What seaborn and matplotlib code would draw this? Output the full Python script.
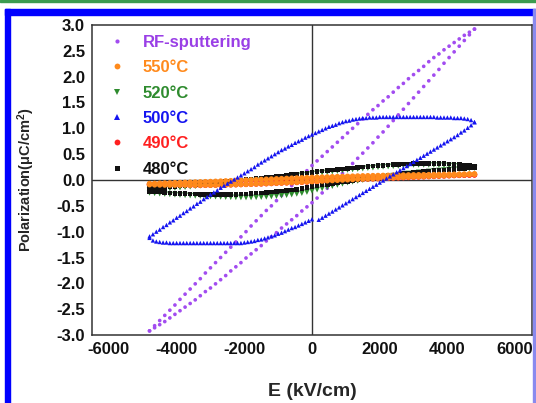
import numpy as np
import matplotlib
matplotlib.use("Agg")
import matplotlib.pyplot as plt
import seaborn as sns
from matplotlib.lines import Line2D
from matplotlib.patches import Rectangle
from matplotlib.ticker import MultipleLocator, FormatStrFormatter

# ---------------------------------------------------------------- data
# field sweep, 150 kV/cm steps
E_150 = [-4800, -4650, -4500, -4350, -4200, -4050, -3900, -3750, -3600, -3450, -3300, -3150, -3000,
         -2850, -2700, -2550, -2400, -2250, -2100, -1950, -1800, -1650, -1500, -1350, -1200, -1050,
         -900, -750, -600, -450, -300, -150, 0, 150, 300, 450, 600, 750, 900,
         1050, 1200, 1350, 1500, 1650, 1800, 1950, 2100, 2250, 2400, 2550, 2700, 2850,
         3000, 3150, 3300, 3450, 3600, 3750, 3900, 4050, 4200, 4350, 4500, 4650, 4800]

# field sweep, 100 kV/cm steps (500 C film)
E_100 = [-4800, -4700, -4600, -4500, -4400, -4300, -4200, -4100, -4000, -3900, -3800, -3700,
         -3600, -3500, -3400, -3300, -3200, -3100, -3000, -2900, -2800, -2700, -2600, -2500,
         -2400, -2300, -2200, -2100, -2000, -1900, -1800, -1700, -1600, -1500, -1400, -1300,
         -1200, -1100, -1000, -900, -800, -700, -600, -500, -400, -300, -200, -100,
         0, 100, 200, 300, 400, 500, 600, 700, 800, 900, 1000, 1100,
         1200, 1300, 1400, 1500, 1600, 1700, 1800, 1900, 2000, 2100, 2200, 2300,
         2400, 2500, 2600, 2700, 2800, 2900, 3000, 3100, 3200, 3300, 3400, 3500,
         3600, 3700, 3800, 3900, 4000, 4100, 4200, 4300, 4400, 4500, 4600, 4700,
         4800]

# polarization (uC/cm^2): "up" = branch swept down from +Emax, "lo" = branch swept up
rf_up = [-2.92, -2.82, -2.72, -2.62, -2.52, -2.42, -2.31, -2.21, -2.11, -2.01, -1.91, -1.80, -1.70,
         -1.60, -1.50, -1.40, -1.30, -1.20, -1.10, -1.00, -0.89, -0.79, -0.69, -0.59, -0.50, -0.40,
         -0.30, -0.21, -0.11, -0.01, 0.08, 0.18, 0.28, 0.37, 0.46, 0.55, 0.64, 0.73, 0.82,
         0.91, 1.00, 1.09, 1.18, 1.27, 1.36, 1.44, 1.53, 1.61, 1.70, 1.79, 1.87, 1.96,
         2.04, 2.12, 2.20, 2.29, 2.37, 2.44, 2.52, 2.59, 2.66, 2.73, 2.80, 2.86, 2.92]
rf_lo = [-2.92, -2.86, -2.80, -2.74, -2.67, -2.60, -2.53, -2.46, -2.39, -2.32, -2.24, -2.16, -2.09,
         -2.01, -1.93, -1.85, -1.76, -1.68, -1.60, -1.51, -1.43, -1.35, -1.27, -1.18, -1.10, -1.02,
         -0.93, -0.85, -0.77, -0.69, -0.60, -0.52, -0.44, -0.35, -0.25, -0.16, -0.06, 0.03, 0.13,
         0.22, 0.32, 0.42, 0.52, 0.62, 0.72, 0.83, 0.93, 1.04, 1.15, 1.26, 1.37, 1.48,
         1.59, 1.70, 1.81, 1.92, 2.03, 2.14, 2.26, 2.37, 2.48, 2.59, 2.70, 2.81, 2.92]

c550_up = [-0.070, -0.067, -0.063, -0.060, -0.057, -0.053, -0.050, -0.047, -0.043, -0.040, -0.037, -0.033, -0.030,
           -0.026, -0.022, -0.018, -0.014, -0.010, -0.006, -0.002, 0.002, 0.006, 0.010, 0.014, 0.018, 0.022,
           0.026, 0.030, 0.034, 0.038, 0.042, 0.046, 0.050, 0.053, 0.056, 0.059, 0.062, 0.065, 0.068,
           0.071, 0.074, 0.077, 0.080, 0.082, 0.084, 0.086, 0.088, 0.090, 0.092, 0.094, 0.096, 0.098,
           0.100, 0.101, 0.102, 0.103, 0.105, 0.106, 0.108, 0.109, 0.111, 0.113, 0.115, 0.118, 0.120]
c550_lo = [-0.090, -0.093, -0.095, -0.097, -0.098, -0.099, -0.100, -0.100, -0.100, -0.100, -0.100, -0.100, -0.100,
           -0.098, -0.096, -0.094, -0.092, -0.089, -0.086, -0.083, -0.080, -0.076, -0.072, -0.068, -0.064, -0.060,
           -0.056, -0.052, -0.048, -0.043, -0.039, -0.034, -0.030, -0.025, -0.020, -0.015, -0.010, -0.005, 0.000,
           0.005, 0.010, 0.015, 0.020, 0.024, 0.028, 0.032, 0.036, 0.040, 0.044, 0.048, 0.052, 0.056,
           0.060, 0.064, 0.068, 0.072, 0.076, 0.080, 0.084, 0.088, 0.092, 0.096, 0.100, 0.105, 0.110]

c520_up = [-0.200, -0.192, -0.183, -0.175, -0.166, -0.157, -0.148, -0.139, -0.130, -0.121, -0.112, -0.101, -0.090,
           -0.081, -0.072, -0.063, -0.054, -0.045, -0.036, -0.026, -0.016, -0.006, 0.005, 0.015, 0.025, 0.035,
           0.046, 0.058, 0.070, 0.082, 0.094, 0.107, 0.120, 0.130, 0.141, 0.151, 0.162, 0.172, 0.183,
           0.193, 0.202, 0.211, 0.220, 0.229, 0.238, 0.247, 0.254, 0.260, 0.266, 0.272, 0.278, 0.284,
           0.290, 0.291, 0.292, 0.292, 0.290, 0.288, 0.285, 0.280, 0.275, 0.270, 0.262, 0.252, 0.240]
c520_lo = [-0.250, -0.258, -0.265, -0.272, -0.279, -0.287, -0.292, -0.297, -0.302, -0.307, -0.311, -0.316, -0.320,
           -0.324, -0.328, -0.332, -0.335, -0.337, -0.339, -0.340, -0.339, -0.336, -0.332, -0.327, -0.321, -0.314,
           -0.305, -0.295, -0.284, -0.270, -0.255, -0.234, -0.210, -0.188, -0.165, -0.143, -0.120, -0.098, -0.075,
           -0.052, -0.035, -0.019, -0.002, 0.014, 0.031, 0.047, 0.059, 0.073, 0.086, 0.100, 0.113, 0.127,
           0.140, 0.149, 0.158, 0.167, 0.176, 0.185, 0.194, 0.202, 0.206, 0.210, 0.215, 0.222, 0.230]

c500_up = [-1.09, -1.05, -1.00, -0.96, -0.91, -0.87, -0.82, -0.78, -0.73, -0.69, -0.64, -0.60,
           -0.55, -0.51, -0.46, -0.42, -0.37, -0.33, -0.28, -0.24, -0.20, -0.15, -0.11, -0.07,
           -0.03, 0.01, 0.05, 0.09, 0.13, 0.17, 0.21, 0.25, 0.30, 0.34, 0.38, 0.42,
           0.46, 0.50, 0.54, 0.58, 0.61, 0.65, 0.68, 0.72, 0.75, 0.78, 0.82, 0.85,
           0.88, 0.91, 0.94, 0.97, 1.00, 1.03, 1.05, 1.07, 1.10, 1.12, 1.14, 1.15,
           1.17, 1.18, 1.19, 1.20, 1.20, 1.21, 1.21, 1.21, 1.22, 1.22, 1.22, 1.22,
           1.22, 1.22, 1.22, 1.22, 1.22, 1.22, 1.22, 1.22, 1.22, 1.22, 1.22, 1.22,
           1.22, 1.21, 1.21, 1.21, 1.21, 1.21, 1.20, 1.20, 1.20, 1.19, 1.18, 1.16,
           1.12]
c500_lo = [-1.12, -1.17, -1.19, -1.20, -1.21, -1.21, -1.22, -1.22, -1.22, -1.22, -1.22, -1.22,
           -1.22, -1.22, -1.22, -1.22, -1.22, -1.22, -1.22, -1.22, -1.22, -1.22, -1.22, -1.22,
           -1.22, -1.22, -1.22, -1.22, -1.21, -1.20, -1.19, -1.18, -1.16, -1.15, -1.13, -1.11,
           -1.09, -1.07, -1.04, -1.02, -0.99, -0.96, -0.93, -0.91, -0.88, -0.85, -0.82, -0.79,
           -0.76, np.nan, -0.77, -0.73, -0.69, -0.65, -0.61, -0.57, -0.53, -0.49, -0.45, -0.41,
           -0.37, -0.33, -0.29, -0.25, -0.21, -0.17, -0.13, -0.09, -0.05, -0.01, 0.03, 0.07,
           0.11, 0.15, 0.19, 0.23, 0.27, 0.31, 0.35, 0.39, 0.43, 0.47, 0.51, 0.55,
           0.59, 0.63, 0.67, 0.71, 0.75, 0.79, 0.83, 0.87, 0.92, 0.96, 1.01, 1.06,
           1.12]

c490_up = [-0.080, -0.077, -0.074, -0.071, -0.068, -0.065, -0.062, -0.059, -0.056, -0.053, -0.050, -0.047, -0.044,
           -0.040, -0.036, -0.032, -0.028, -0.024, -0.020, -0.016, -0.012, -0.008, -0.004, 0.000, 0.004, 0.008,
           0.012, 0.016, 0.020, 0.024, 0.028, 0.032, 0.036, 0.039, 0.042, 0.045, 0.048, 0.051, 0.054,
           0.057, 0.060, 0.063, 0.066, 0.068, 0.070, 0.072, 0.074, 0.076, 0.078, 0.080, 0.082, 0.084,
           0.086, 0.087, 0.088, 0.089, 0.090, 0.091, 0.092, 0.093, 0.094, 0.095, 0.096, 0.098, 0.100]
c490_lo = [-0.095, -0.097, -0.099, -0.101, -0.102, -0.103, -0.104, -0.104, -0.104, -0.104, -0.103, -0.102, -0.101,
           -0.099, -0.097, -0.095, -0.093, -0.090, -0.087, -0.084, -0.081, -0.078, -0.075, -0.071, -0.067, -0.063,
           -0.059, -0.055, -0.051, -0.047, -0.043, -0.039, -0.035, -0.031, -0.027, -0.022, -0.017, -0.012, -0.007,
           -0.002, 0.003, 0.008, 0.013, 0.018, 0.022, 0.026, 0.030, 0.034, 0.038, 0.042, 0.046, 0.050,
           0.054, 0.058, 0.062, 0.066, 0.070, 0.074, 0.078, 0.082, 0.086, 0.090, 0.093, 0.096, 0.100]

c480_up = [-0.170, -0.161, -0.151, -0.142, -0.133, -0.123, -0.114, -0.105, -0.096, -0.087, -0.078, -0.069, -0.060,
           -0.051, -0.042, -0.033, -0.024, -0.015, -0.006, 0.004, 0.014, 0.025, 0.035, 0.046, 0.056, 0.067,
           0.078, 0.090, 0.102, 0.114, 0.126, 0.138, 0.150, 0.160, 0.171, 0.181, 0.192, 0.202, 0.213,
           0.223, 0.232, 0.241, 0.250, 0.259, 0.268, 0.277, 0.283, 0.289, 0.295, 0.301, 0.307, 0.313,
           0.320, 0.321, 0.322, 0.322, 0.320, 0.318, 0.315, 0.310, 0.305, 0.300, 0.290, 0.280, 0.270]
c480_lo = [-0.220, -0.228, -0.235, -0.242, -0.250, -0.257, -0.262, -0.266, -0.270, -0.273, -0.276, -0.278, -0.280,
           -0.281, -0.282, -0.281, -0.280, -0.277, -0.273, -0.268, -0.262, -0.255, -0.248, -0.240, -0.231, -0.222,
           -0.213, -0.203, -0.192, -0.181, -0.162, -0.146, -0.130, -0.115, -0.100, -0.085, -0.070, -0.055, -0.040,
           -0.025, -0.010, 0.005, 0.020, 0.034, 0.048, 0.062, 0.076, 0.088, 0.100, 0.112, 0.124, 0.136,
           0.148, 0.156, 0.164, 0.172, 0.180, 0.188, 0.195, 0.202, 0.209, 0.216, 0.223, 0.232, 0.240]

labels = ["RF-sputtering", "550°C", "520°C", "500°C", "490°C", "480°C"]
x_ticks = [-6000, -4000, -2000, 0, 2000, 4000, 6000]

# ---------------------------------------------------------------- style
sns.set_style("white")
plt.rcParams["font.family"] = ["Liberation Sans", "DejaVu Sans"]
plt.rcParams["font.weight"] = "bold"
plt.rcParams["axes.unicode_minus"] = False
plt.rcParams["mathtext.fontset"] = "custom"
plt.rcParams["mathtext.rm"] = "Liberation Sans:bold"
plt.rcParams["mathtext.it"] = "Liberation Sans:bold"
plt.rcParams["mathtext.bf"] = "Liberation Sans:bold"

series = [
    # label, E grid, upper, lower, marker, size, marker colour, text colour, zorder
    (labels[0], E_150, rf_up, rf_lo, "o", 7, "#a24cf0", "#9a3fe6", 2),
    (labels[1], E_150, c550_up, c550_lo, "o", 16, "#ff8a1c", "#ff8a1c", 6),
    (labels[2], E_150, c520_up, c520_lo, "v", 16, "#2e8b2e", "#2e8b2e", 4),
    (labels[3], E_100, c500_up, c500_lo, "^", 10, "#1414f0", "#1414f0", 7),
    (labels[4], E_150, c490_up, c490_lo, "o", 16, "#ff2020", "#ff2020", 3),
    (labels[5], E_150, c480_up, c480_lo, "s", 11, "#111111", "#111111", 5),
]
legend_ms = [3.0, 4.2, 4.2, 4.2, 4.2, 3.6]

fig = plt.figure(figsize=(5.36, 4.03), dpi=100)
ax = fig.add_axes([92 / 536, (403 - 335) / 403, 440 / 536, 310 / 403])

for lab, e, up, lo, mk, s, mc, tc, z in series:
    sns.scatterplot(x=list(e) + list(e), y=list(up) + list(lo), marker=mk, s=s,
                    color=mc, linewidth=0, edgecolor="none", ax=ax, zorder=z, legend=False)

ax.axhline(0, color="#333333", lw=1.0, zorder=1)
ax.axvline(0, color="#333333", lw=1.0, zorder=1)

ax.set_xlim(-6500, 6500)
ax.set_ylim(-3.0, 3.0)
ax.set_xticks(x_ticks)
ax.xaxis.set_minor_locator(MultipleLocator(1000))
ax.yaxis.set_major_locator(MultipleLocator(0.5))
ax.yaxis.set_minor_locator(MultipleLocator(0.25))
ax.yaxis.set_major_formatter(FormatStrFormatter("%.1f"))
ax.tick_params(which="both", direction="in", top=False, right=False, colors="#333333",
               labelcolor="#111111", width=1.0)
ax.tick_params(which="major", length=5, labelsize=12, pad=5)
ax.tick_params(which="minor", length=3)
for lab in ax.get_xticklabels() + ax.get_yticklabels():
    lab.set_fontweight("bold")
for sp in ax.spines.values():
    sp.set_color("#333333")
    sp.set_linewidth(1.1)

ax.set_xlabel("E (kV/cm)", fontsize=14, fontweight="bold", labelpad=19)
ax.set_ylabel("Polarization(μC/cm$^2$)", fontsize=10.5, fontweight="bold", labelpad=14)

handles = [Line2D([], [], ls="none", marker=mk, color=mc, markersize=ms, markeredgewidth=0)
           for (lab, e, up, lo, mk, s, mc, tc, z), ms in zip(series, legend_ms)]
leg = ax.legend(handles, labels, loc="upper left", bbox_to_anchor=(0.041, 0.968),
                frameon=False, fontsize=12, handlelength=0.8, handletextpad=1.15,
                labelspacing=0.62, borderpad=0, borderaxespad=0)
for txt, sr in zip(leg.get_texts(), series):
    txt.set_color(sr[7])
    txt.set_fontweight("bold")

# page frame around the figure
fig.patches.append(Rectangle((0, 1 - 2 / 403), 1, 2 / 403, transform=fig.transFigure,
                             color="#3c9c50", zorder=0))
fig.patches.append(Rectangle((5 / 536, 1 - 15 / 403), 531 / 536, 6 / 403, transform=fig.transFigure,
                             color="#0000ff", zorder=0))
fig.patches.append(Rectangle((5 / 536, 0), 5 / 536, 1 - 9 / 403, transform=fig.transFigure,
                             color="#0000ff", zorder=0))
fig.patches.append(Rectangle((533 / 536, 0), 2 / 536, 1 - 9 / 403, transform=fig.transFigure,
                             color="#8a8aee", zorder=0))

fig.savefig("out.png", dpi=100)
